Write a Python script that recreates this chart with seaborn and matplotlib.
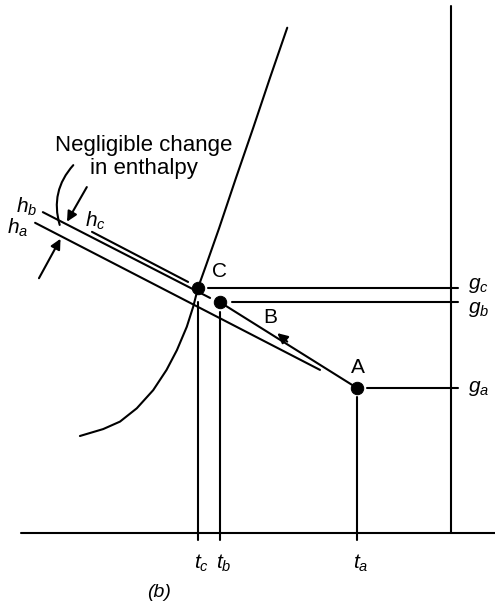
import numpy as np
import pandas as pd
import seaborn as sns
import matplotlib.pyplot as plt
from matplotlib.patches import FancyArrowPatch

# ---- data (schematic psychrometric chart, arbitrary units 0-100) ----
point_names = ['C', 'B', 'A']
t_labels = [r'$t_c$', r'$t_b$', r'$t_a$']
g_labels = [r'$g_c$', r'$g_b$', r'$g_a$']
t_vals = [41.3, 46.4, 78.2]          # dry-bulb temperatures
g_vals = [46.0, 43.3, 27.2]          # moisture contents

# saturation curve
sat_x = [62.0, 58.0, 54.1, 50.1, 46.2, 43.2, 41.3, 40.2, 38.7, 36.4,
         34.0, 30.9, 27.1, 23.2, 19.3, 13.9]
sat_y = [94.8, 85.4, 76.0, 66.6, 57.2, 50.3, 46.0, 42.5, 38.7, 34.3,
         30.6, 26.8, 23.4, 20.9, 19.5, 18.2]

# constant-enthalpy lines
hb_x = [5.3, 44.1]
hb_y = [60.2, 44.1]
ha_x = [3.5, 69.6]
ha_y = [58.2, 30.6]
hc_x = [16.7, 39.0]
hc_y = [56.5, 47.1]

# ---- style ----
sns.set_theme(style='white')
plt.rcParams['font.family'] = ['Liberation Sans', 'DejaVu Sans']
plt.rcParams['text.color'] = 'black'
plt.rcParams['mathtext.fontset'] = 'custom'
plt.rcParams['mathtext.rm'] = 'Liberation Sans'
plt.rcParams['mathtext.it'] = 'Liberation Sans:italic'

LW = 1.5
K = 'black'
FS = 15

fig = plt.figure(figsize=(4.95, 6.08), dpi=100)
ax = fig.add_axes([0, 0, 1, 1])
ax.set_xlim(-4.64, 110.2)
ax.set_ylim(-14.07, 100)
ax.axis('off')

# frame: baseline and right vertical
ax.plot([0.2, 110.2], [0, 0], color=K, lw=LW)
ax.plot([100, 100], [0, 98.9], color=K, lw=LW)

# saturation curve
sat = pd.DataFrame({'x': sat_x, 'y': sat_y})
sns.lineplot(data=sat, x='x', y='y', sort=False, estimator=None,
             color=K, lw=LW, ax=ax)

# enthalpy lines
for xs, ys in [(hb_x, hb_y), (ha_x, ha_y), (hc_x, hc_y)]:
    ax.plot(xs, ys, color=K, lw=LW)

# process line B -> A
ax.plot([t_vals[1], t_vals[2]], [g_vals[1], g_vals[2]], color=K, lw=LW)
ax.annotate('', xy=(59.7, 37.5), xytext=(62.0, 35.9),
            arrowprops=dict(arrowstyle='-|>', color=K, lw=LW,
                            mutation_scale=15, shrinkA=0, shrinkB=0))

# state points
pts = pd.DataFrame({'t': t_vals, 'g': g_vals, 'name': point_names})
sns.scatterplot(data=pts, x='t', y='g', color=K, s=80, edgecolor=K,
                zorder=5, ax=ax, legend=False)

# vertical drop lines to the temperature axis (start just below dots)
v_gap = [2.7, 1.8, 1.7]
for t, g, gap in zip(t_vals, g_vals, v_gap):
    ax.plot([t, t], [g - gap, -1.3], color=K, lw=LW)
# horizontal lines to the moisture axis (start just right of dots)
h_gap = [2.3, 2.8, 2.3]
for t, g, gap in zip(t_vals, g_vals, h_gap):
    ax.plot([t + gap, 101.6], [g, g], color=K, lw=LW)

# labels
label_off = [(5.0, 3.0), (11.6, -2.8), (0.2, 3.8)]
for (dx, dy), t, g, n in zip(label_off, t_vals, g_vals, point_names):
    ax.text(t + dx, g + dy, n, fontsize=FS, ha='center', va='center')
for t, lab in zip(t_vals, t_labels):
    ax.text(t + 0.8, -5.6, lab, fontsize=FS, ha='center', va='center')
g_lab_y = [46.4, 41.9, 27.2]
for y, lab in zip(g_lab_y, g_labels):
    ax.text(104.0, y, lab, fontsize=FS, ha='left', va='center')

ax.text(1.6, 61.2, r'$h_b$', fontsize=FS, ha='center', va='center')
ax.text(-0.6, 57.3, r'$h_a$', fontsize=FS, ha='center', va='center')
ax.text(17.4, 58.6, r'$h_c$', fontsize=FS, ha='center', va='center')
ax.text(32.3, -11.1, '(b)', fontsize=FS - 1, style='italic',
        ha='center', va='center')

ax.text(28.8, 70.6, 'Negligible change\nin enthalpy', fontsize=16,
        ha='center', va='center', linespacing=1.1)

# annotation arrows
ax.annotate('', xy=(10.9, 58.4), xytext=(15.5, 64.9),
            arrowprops=dict(arrowstyle='-|>', color=K, lw=LW,
                            mutation_scale=15, shrinkA=0, shrinkB=0))
ax.annotate('', xy=(9.4, 55.2), xytext=(4.4, 47.8),
            arrowprops=dict(arrowstyle='-|>', color=K, lw=LW,
                            mutation_scale=15, shrinkA=0, shrinkB=0))
bracket = FancyArrowPatch((12.8, 69.4), (9.4, 57.3),
                          connectionstyle='arc3,rad=0.3',
                          arrowstyle='-', color=K, lw=LW)
ax.add_patch(bracket)

fig.savefig('out.png', dpi=100)
